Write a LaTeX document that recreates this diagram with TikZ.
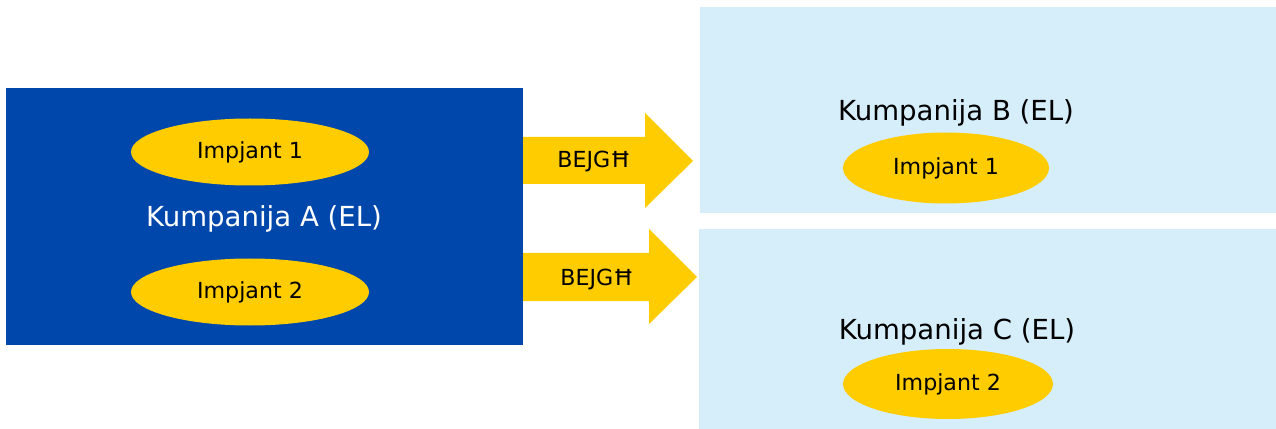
\documentclass[tikz,border=0pt]{standalone}
\usepackage{fontspec}
\setmainfont{DejaVu Sans}
\usepackage{xcolor}
\definecolor{darkblue}{RGB}{0,71,171}
\definecolor{paleblue}{RGB}{214,238,249}
\definecolor{gold}{RGB}{255,204,0}
\usetikzlibrary{shapes}
\tikzset{plant/.style={ellipse, fill=gold, inner sep=0pt, font=\fontsize{12.6}{15}\selectfont},
 company/.style={font=\fontsize{15.7}{18}\selectfont},
 flow/.style={fill=gold, draw=none},
 }

\begin{document}
\begin{tikzpicture}[x=0.02cm, y=-0.02cm]
        \useasboundingbox (0,0) rectangle (1276,429);

        % kumpanija A
        \fill[darkblue] (6, 88) rectangle (523, 345);
        \node[plant, minimum width=238*0.02cm, minimum height=67*0.02cm] (a1) at (250, 152) {Impjant 1};
        \node[company, text=white] (a) at (264, 219) {Kumpanija A (EL)};
        \node[plant, minimum width=238*0.02cm, minimum height=67*0.02cm] (a2) at (250, 292) {Impjant 2};

        % kumpanija B u C
        \fill[paleblue] (700, 7) rectangle (1276, 213);
        \node[company] (b) at (956, 113) {Kumpanija B (EL)};
        \node[plant, minimum width=206*0.02cm, minimum height=71*0.02cm] (b1) at (946, 168) {Impjant 1};

        \fill[paleblue] (699, 229) rectangle (1276, 429);
        \node[company] (c) at (957, 332) {Kumpanija C (EL)};
        \node[plant, minimum width=210*0.02cm, minimum height=70*0.02cm] (c2) at (948, 384) {Impjant 2};

        % vleggi
        \fill[flow] (523, 137) -- (645, 137) -- (645, 113) -- (693, 161)
            -- (645, 208) -- (645, 184) -- (523, 184) -- cycle;
        \node (t1) at (594, 162) {\fontsize{12.6}{15}\selectfont BEJGĦ};

        \fill[flow] (523, 253) -- (649, 253) -- (649, 229) -- (697, 277)
            -- (649, 324) -- (649, 301) -- (523, 301) -- cycle;
        \node (t2) at (597, 279) {\fontsize{12.6}{15}\selectfont BEJGĦ};
    \end{tikzpicture}
\end{document}
